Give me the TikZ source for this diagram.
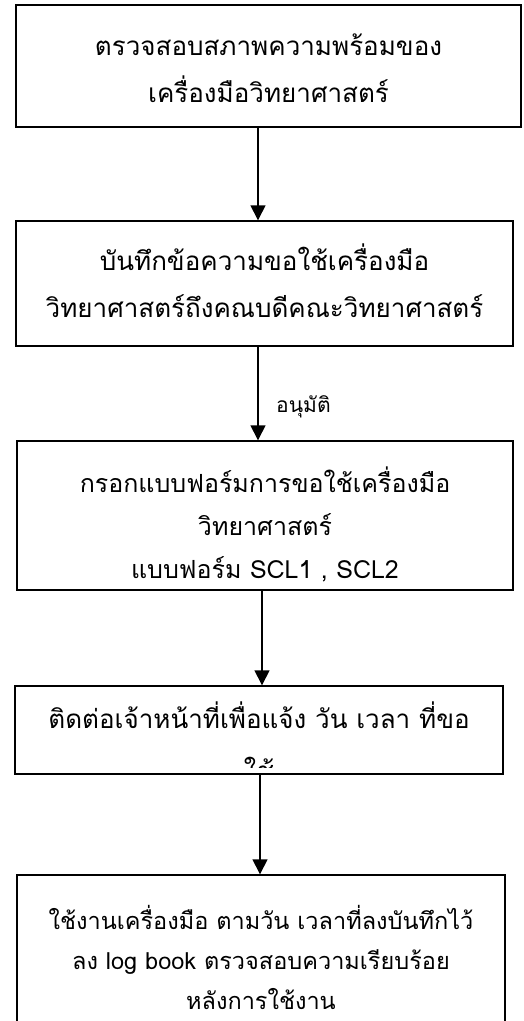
\documentclass[tikz,border=0pt]{standalone}
\usepackage{fontspec}
\newfontfamily\thaifont[Script=Thai]{Loma}
\usetikzlibrary{arrows.meta,calc}
\begin{document}
\begin{tikzpicture}[x=1pt,y=-1pt,
  box/.style={draw, line width=1.4pt, rectangle, inner sep=0pt},
  txtbig/.style={font=\thaifont\fontsize{26}{47}\selectfont, align=center, inner sep=0pt},
  txtmid/.style={font=\thaifont\fontsize{25}{43}\selectfont, align=center, inner sep=0pt},
  txtsml/.style={font=\thaifont\fontsize{23.5}{40}\selectfont, align=center, inner sep=0pt},
  lbl/.style={font=\thaifont\fontsize{21}{25}\selectfont, inner sep=0pt, anchor=west},
  conn/.style={line width=1.4pt, -{Triangle[width=15pt,length=15pt]}}]
\clip (0,0) rectangle (524,1021);
\fill[white] (0,0) rectangle (524,1021);
% boxes
\node[box, minimum width=505pt, minimum height=122pt] (b1) at (268.5,66) {};
\node[box, minimum width=497pt, minimum height=125pt] (b2) at (264.5,283.5) {};
\node[box, minimum width=496pt, minimum height=149pt] (b3) at (265,515.5) {};
\node[box, minimum width=488pt, minimum height=88pt] (b4) at (259,730) {};
\node[box, minimum width=488pt, minimum height=166pt] (b5) at (261,958) {};
% texts
\node[txtbig] (t1) at (268.5,68.5) {ตรวจสอบสภาพความพร้อมของ\\เครื่องมือวิทยาศาสตร์};
\node[txtbig] (t2) at (264.5,281) {บันทึกข้อความขอใช้เครื่องมือ\\วิทยาศาสตร์ถึงคณบดีคณะวิทยาศาสตร์};
\node[txtmid] (t3) at (265,524) {กรอกแบบฟอร์มการขอใช้เครื่องมือ\\วิทยาศาสตร์\\แบบฟอร์ม SCL1 , SCL2};
\node[txtbig] (t4) at (259,715) {ติดต่อเจ้าหน้าที่เพื่อแจ้ง วัน เวลา ที่ขอ};
\begin{scope}
  \clip (15,740) rectangle (503,767);
  \node[txtbig] (t4b) at (259,769) {ใช้};
\end{scope}
\node[txtsml] (t5) at (261,957) {ใช้งานเครื่องมือ ตามวัน เวลาที่ลงบันทึกไว้\\ลง log book ตรวจสอบความเรียบร้อย\\หลังการใช้งาน};
% connectors
\coordinate (x1) at (258,0);
\coordinate (x3) at (262,0);
\coordinate (x4) at (260,0);
\draw[conn] (b1.south -| x1) -- (b2.north -| x1);
\draw[conn] (b2.south -| x1) -- (b3.north -| x1);
\draw[conn] (b3.south -| x3) -- (b4.north -| x3);
\draw[conn] (b4.south -| x4) -- (b5.north -| x4);
\node[lbl] (ok) at (276,407) {อนุมัติ};
\end{tikzpicture}
\end{document}
